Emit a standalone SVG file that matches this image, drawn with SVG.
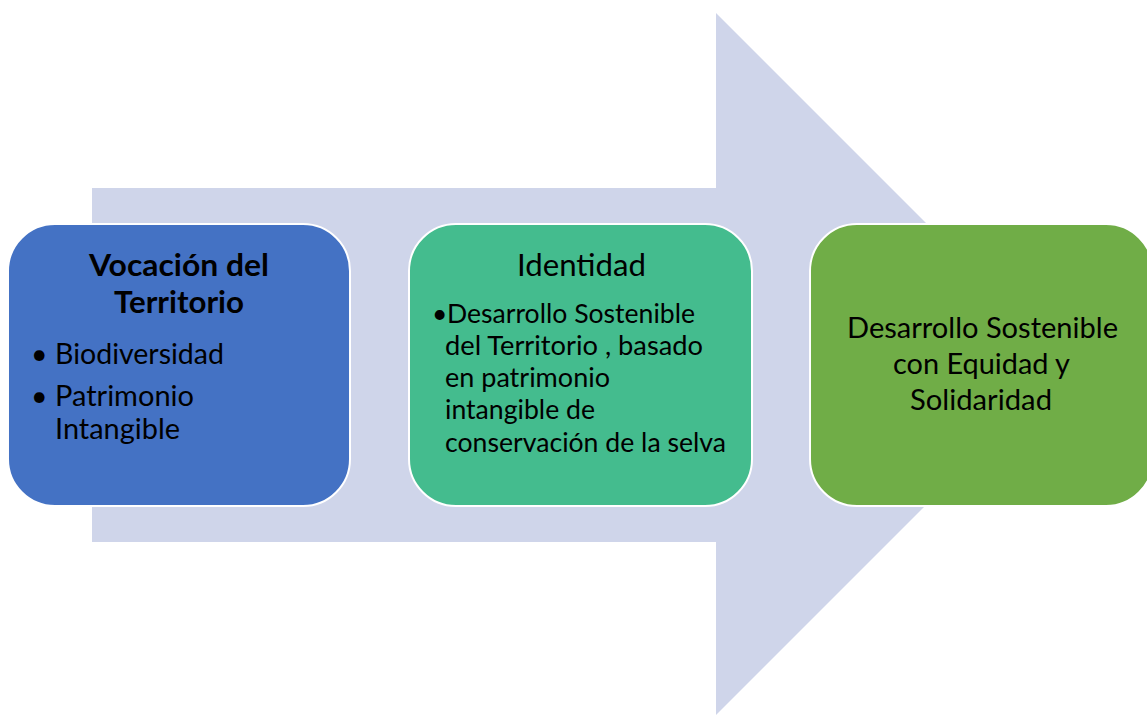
<svg xmlns="http://www.w3.org/2000/svg" width="1147" height="715" viewBox="0 0 1147 715">
<style>
.box{stroke:#ffffff;stroke-width:2}
.t{font-family:Lato,"Open Sans","Liberation Sans",sans-serif;fill:#000000}
.title{font-size:30px}
.b{font-weight:bold}
.body1{font-size:28.5px}
.body2{font-size:26.5px}
.body3{font-size:29px}
</style>
<rect width="1147" height="715" fill="#ffffff"/>
<g id="connectors">
<polygon id="arrow" points="92,188 716,188 716,13 1067,364 716,715 716,542 92,542" fill="#CFD5EA"/>
</g>
<g id="node-vocacion">
<rect class="box" x="8" y="224" width="342" height="282" rx="47" ry="47" fill="#4472C4"/>
<text class="t title b" x="179" y="276" text-anchor="middle" textLength="180" lengthAdjust="spacingAndGlyphs">Vocación del</text>
<text class="t title b" x="179" y="313" text-anchor="middle" textLength="130" lengthAdjust="spacingAndGlyphs">Territorio</text>
<text class="t body1" x="31" y="364">•</text>
<text class="t body1" x="55" y="364" textLength="169" lengthAdjust="spacingAndGlyphs">Biodiversidad</text>
<text class="t body1" x="31" y="406">•</text>
<text class="t body1" x="55" y="406" textLength="139" lengthAdjust="spacingAndGlyphs">Patrimonio</text>
<text class="t body1" x="55" y="439" textLength="125" lengthAdjust="spacingAndGlyphs">Intangible</text>
</g>
<g id="node-identidad">
<rect class="box" x="409" y="224" width="343" height="282" rx="47" ry="47" fill="#44BC8E"/>
<text class="t title" x="581.5" y="276" text-anchor="middle" textLength="129" lengthAdjust="spacingAndGlyphs">Identidad</text>
<text class="t body2" x="432" y="323">•</text>
<text class="t body2" x="447" y="323" textLength="248" lengthAdjust="spacingAndGlyphs">Desarrollo Sostenible</text>
<text class="t body2" x="445" y="355" textLength="258" lengthAdjust="spacingAndGlyphs">del Territorio , basado</text>
<text class="t body2" x="445" y="387" textLength="165" lengthAdjust="spacingAndGlyphs">en patrimonio</text>
<text class="t body2" x="445" y="419" textLength="150" lengthAdjust="spacingAndGlyphs">intangible de</text>
<text class="t body2" x="445" y="452" textLength="281" lengthAdjust="spacingAndGlyphs">conservación de la selva</text>
</g>
<g id="node-desarrollo">
<rect class="box" x="810" y="224" width="343" height="282" rx="47" ry="47" fill="#70AD47"/>
<text class="t body3" x="982.5" y="338" text-anchor="middle" textLength="271" lengthAdjust="spacingAndGlyphs">Desarrollo Sostenible</text>
<text class="t body3" x="981.5" y="374" text-anchor="middle" textLength="177" lengthAdjust="spacingAndGlyphs">con Equidad y</text>
<text class="t body3" x="981" y="410" text-anchor="middle" textLength="142" lengthAdjust="spacingAndGlyphs">Solidaridad</text>
</g>
</svg>
